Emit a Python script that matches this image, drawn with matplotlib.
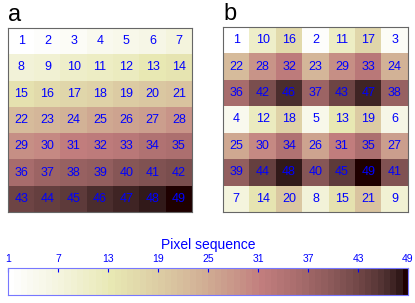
import numpy as np
import matplotlib
matplotlib.use("Agg")
import matplotlib.pyplot as plt
from matplotlib.colors import ListedColormap

plt.rcParams['font.family'] = ['Liberation Sans', 'DejaVu Sans']

# pixel order, panel a (raster) and panel b (scrambled)
seq_a = np.arange(1, 50).reshape(7, 7)
seq_b = np.array([
    [1, 10, 16, 2, 11, 17, 3],
    [22, 28, 32, 23, 29, 33, 24],
    [36, 42, 46, 37, 43, 47, 38],
    [4, 12, 18, 5, 13, 19, 6],
    [25, 30, 34, 26, 31, 35, 27],
    [39, 44, 48, 40, 45, 49, 41],
    [7, 14, 20, 8, 15, 21, 9],
])
cbar_ticks = [1, 7, 13, 19, 25, 31, 37, 43, 49]

# 64-entry reversed pink map, like matlab's default
cmap = ListedColormap(plt.get_cmap("pink_r")(np.linspace(0, 1, 64)))
blue = "#0000ff"

fig = plt.figure(figsize=(4.15, 3.03), dpi=100)
W, H = 415, 303

def ax_px(x0, y0, x1, y1):
    return fig.add_axes([x0 / W, 1 - y1 / H, (x1 - x0) / W, (y1 - y0) / H])

for data, box, lab in [(seq_a, (8, 28, 192, 212), "a"), (seq_b, (223, 27, 408, 212), "b")]:
    ax = ax_px(*box)
    ax.imshow(data, cmap=cmap, vmin=1, vmax=49, aspect="auto", interpolation="nearest")
    for i in range(7):
        for j in range(7):
            ax.text(j, i, str(data[i, j]), ha="center", va="center", color=blue, fontsize=9)
    ax.set_xticks([])
    ax.set_yticks([])
    for s in ax.spines.values():
        s.set_color("#666666")
        s.set_linewidth(0.8)
    ax.text(0.0, 1.01, lab, transform=ax.transAxes, fontsize=17, ha="left", va="bottom")

# colorbar
cax = ax_px(8, 268, 408, 295)
grad = np.linspace(1, 49, 64).reshape(1, -1)
cax.imshow(grad, cmap=cmap, vmin=1, vmax=49, aspect="auto", interpolation="nearest",
           extent=(1, 49, 0, 1))
cax.set_xlim(1, 49)
cax.set_yticks([])
cax.set_xticks(cbar_ticks)
cax.xaxis.tick_top()
cax.tick_params(axis="x", direction="in", length=3, color=blue, labelcolor=blue,
                labelsize=7.5, pad=3)
for s in cax.spines.values():
    s.set_color("#7777ff")
    s.set_linewidth(0.8)
cax.set_title("Pixel sequence", color=blue, fontsize=10, pad=14)

fig.savefig("out.png", dpi=100)
